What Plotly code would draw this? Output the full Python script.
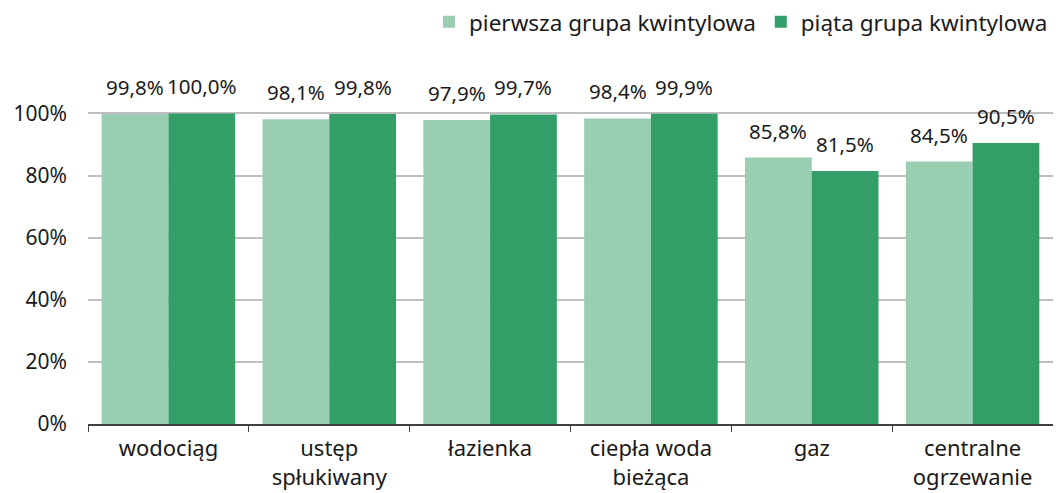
import plotly.graph_objects as go

categories = ["wodociąg", "ustęp<br>spłukiwany", "łazienka", "ciepła woda<br>bieżąca", "gaz", "centralne<br>ogrzewanie"]
series_names = ["pierwsza grupa kwintylowa", "piąta grupa kwintylowa"]
first_q = [99.8, 98.1, 97.9, 98.4, 85.8, 84.5]
fifth_q = [100.0, 99.8, 99.7, 99.9, 81.5, 90.5]
tick_vals = [0, 20, 40, 60, 80, 100]
tick_text = ["0%", "20%", "40%", "60%", "80%", "100%"]
colors = ["#99CEB3", "#339E68"]

FONT = "Noto Sans"
BARGAP = 0.17

def fmt(v):
    return f"{v:.1f}".replace(".", ",") + "%"

fig = go.Figure()
series = [first_q, fifth_q]
for name, vals, col in zip(series_names, series, colors):
    fig.add_trace(go.Bar(
        x=categories, y=vals, name=name,
        marker=dict(color=col, line=dict(width=0)),
    ))

# value labels above bars
bw = (1 - BARGAP) / len(series)
for si, vals in enumerate(series):
    off = (si - (len(series) - 1) / 2) * bw
    for ci, v in enumerate(vals):
        fig.add_annotation(x=ci + off, y=v, text=fmt(v), showarrow=False,
                           xref="x", yref="y", yanchor="bottom", yshift=11,
                           font=dict(size=20.5, color="#1a1a1a", family=FONT))

# page body adds an 8px margin, so the figure is 8px smaller
fig.update_layout(
    width=1053, height=485,
    margin=dict(l=80, r=8, t=62, b=69, autoexpand=False),
    plot_bgcolor="white", paper_bgcolor="white",
    barmode="group", bargap=BARGAP, bargroupgap=0,
    font=dict(family=FONT, size=22, color="#1a1a1a"),
    legend=dict(orientation="h", x=1.0, xanchor="right", y=1.135, yanchor="middle",
                font=dict(size=22.5), itemwidth=30, traceorder="normal"),
    showlegend=True,
)
fig.update_yaxes(range=[0, 114], tickvals=tick_vals, ticktext=tick_text,
                 showgrid=True, gridcolor="#BFBFBF", gridwidth=1.5,
                 zeroline=False, showline=False, ticks="", ticklabelstandoff=20,
                 tickfont=dict(size=21), automargin=False)
fig.update_xaxes(showline=True, linecolor="#404040", linewidth=1.5,
                 ticks="outside", tickson="boundaries", ticklen=6, tickcolor="#404040",
                 ticklabelstandoff=4, tickfont=dict(size=22), automargin=False)

fig.write_html("out.html")
